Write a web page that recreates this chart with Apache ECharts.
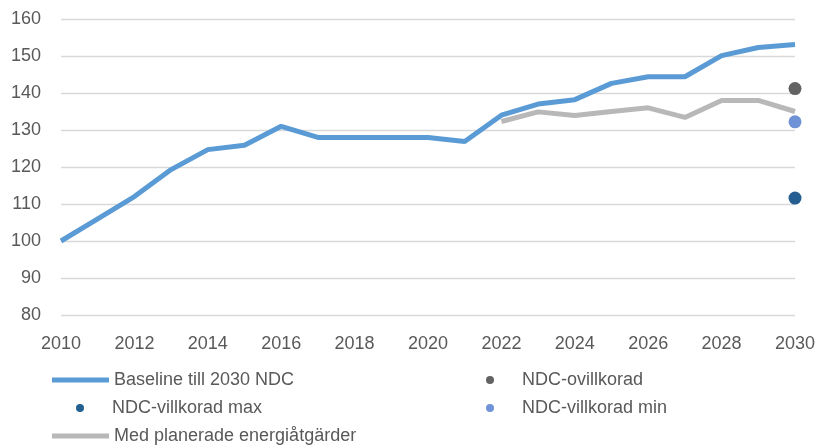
<!DOCTYPE html>
<html>
<head>
<meta charset="utf-8">
<script src="https://cdn.jsdelivr.net/npm/echarts@6/dist/echarts.min.js"></script>
<style>
  html, body { margin: 0; padding: 0; background: #fff; }
  #main { width: 821px; height: 446px; }
</style>
</head>
<body>
<div id="main"></div>
<script>
var years = ['2010', '2011', '2012', '2013', '2014', '2015', '2016', '2017', '2018', '2019', '2020',
             '2021', '2022', '2023', '2024', '2025', '2026', '2027', '2028', '2029', '2030'];

// index 2010 = 100
var baseline = [100, 106, 112, 119.3, 124.7, 125.9, 131, 128, 128, 128, 128,
                126.9, 134, 137, 138.2, 142.6, 144.4, 144.4, 150.1, 152.3, 153.1];
var planerade = [null, null, null, null, null, null, null, null, null, null, null,
                 null, 132.3, 134.9, 133.9, 135, 136, 133.4, 138, 138, 135];

var ovillkorad = [['2030', 141.2]];
var villkoradMax = [['2030', 111.6]];
var villkoradMin = [['2030', 132.2]];

var yTicks = { min: 80, max: 160, interval: 10 };

var textColor = '#595959';
var font = 'Liberation Sans, Arial, sans-serif';

// one legend per entry so the 2-column layout matches the original
function lineLegend(name, left, top) {
  return {
    left: left,
    top: top,
    itemWidth: 57,
    itemHeight: 5,
    padding: 0,
    textStyle: { color: textColor, fontSize: 18, fontFamily: font, lineHeight: 20 },
    data: [{ name: name, icon: 'rect' }]
  };
}
function dotLegend(name, centerX, top) {
  return {
    left: centerX - 4,
    top: top,
    itemWidth: 8,
    itemHeight: 8,
    padding: 0,
    textStyle: { color: textColor, fontSize: 18, fontFamily: font, lineHeight: 20, padding: [0, 0, 0, 23] },
    data: [{ name: name, icon: 'circle' }]
  };
}

var myChart = echarts.init(document.getElementById('main'), null, { renderer: 'canvas' });

var option = {
  animation: false,
  grid: { left: 61, right: 26, top: 19, bottom: 131 },
  xAxis: {
    type: 'category',
    data: years,
    boundaryGap: false,
    axisLine: { show: false },
    axisTick: { show: false },
    axisLabel: { interval: 1, color: textColor, fontSize: 18, fontFamily: font, margin: 20 },
    splitLine: { show: false }
  },
  yAxis: {
    type: 'value',
    min: yTicks.min,
    max: yTicks.max,
    interval: yTicks.interval,
    axisLine: { show: false },
    axisTick: { show: false },
    axisLabel: { color: textColor, fontSize: 18, fontFamily: font, margin: 20 },
    splitLine: { lineStyle: { color: '#d9d9d9', width: 1.3 } }
  },
  legend: [
    lineLegend('Baseline till 2030 NDC', 52, 370),
    dotLegend('NDC-ovillkorad', 490, 370),
    dotLegend('NDC-villkorad max', 80, 398),
    dotLegend('NDC-villkorad min', 490, 398),
    lineLegend('Med planerade energiåtgärder', 52, 426)
  ],
  series: [
    {
      name: 'Baseline till 2030 NDC',
      type: 'line',
      data: baseline,
      symbol: 'none',
      lineStyle: { color: '#5b9bd5', width: 5 },
      itemStyle: { color: '#5b9bd5' },
      z: 3
    },
    {
      name: 'Med planerade energiåtgärder',
      type: 'line',
      data: planerade,
      symbol: 'none',
      lineStyle: { color: '#b8b8b8', width: 5 },
      itemStyle: { color: '#b8b8b8' },
      z: 2
    },
    {
      name: 'NDC-ovillkorad',
      type: 'scatter',
      data: ovillkorad,
      symbolSize: 13,
      itemStyle: { color: '#636363', opacity: 1 },
      z: 4
    },
    {
      name: 'NDC-villkorad max',
      type: 'scatter',
      data: villkoradMax,
      symbolSize: 13,
      itemStyle: { color: '#255e91', opacity: 1 },
      z: 4
    },
    {
      name: 'NDC-villkorad min',
      type: 'scatter',
      data: villkoradMin,
      symbolSize: 13,
      itemStyle: { color: '#6f93d6', opacity: 1 },
      z: 4
    }
  ]
};

myChart.setOption(option);
</script>
</body>
</html>
